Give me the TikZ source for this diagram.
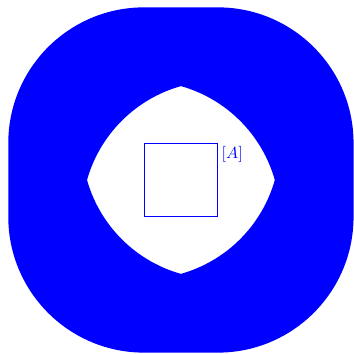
\documentclass[tikz,border=0pt]{standalone}
\usepackage{tikz}
\tikzstyle{region} = [fill=blue, even odd rule]
\tikzstyle{setbox} = [rectangle, draw=blue, minimum width=1.6cm, minimum height=1.6cm, inner sep=0pt]
\tikzstyle{setlabel} = [text=blue, anchor=north west, inner sep=2pt]

\begin{document}
\begin{tikzpicture}
      \useasboundingbox (-3.93,-3.78) rectangle (3.76,3.91);
      \pgfmathsetmacro{\rad}{2.95}
      \pgfmathsetmacro{\tip}{sqrt(\rad*\rad-0.64)-0.8}
      \pgfmathsetmacro{\ang}{atan(0.8/(\tip+0.8))}

      % outer rounded square minus the lens shaped hole
      \fill [region] [rounded corners=2.95cm] (-3.75,-3.75) rectangle (3.75,3.75)
            [sharp corners] (-\tip,0) arc[start angle=180-\ang, end angle=90+\ang, radius=\rad]
            arc[start angle=90-\ang, end angle=\ang, radius=\rad]
            arc[start angle=-\ang, end angle=-90+\ang, radius=\rad]
            arc[start angle=-90-\ang, end angle=-180+\ang, radius=\rad] -- cycle;

      \node (setA) [setbox] at (0,0) {};
      \node (labA) [setlabel] at (setA.north east) {$[A]$};

\end{tikzpicture}
\end{document}
